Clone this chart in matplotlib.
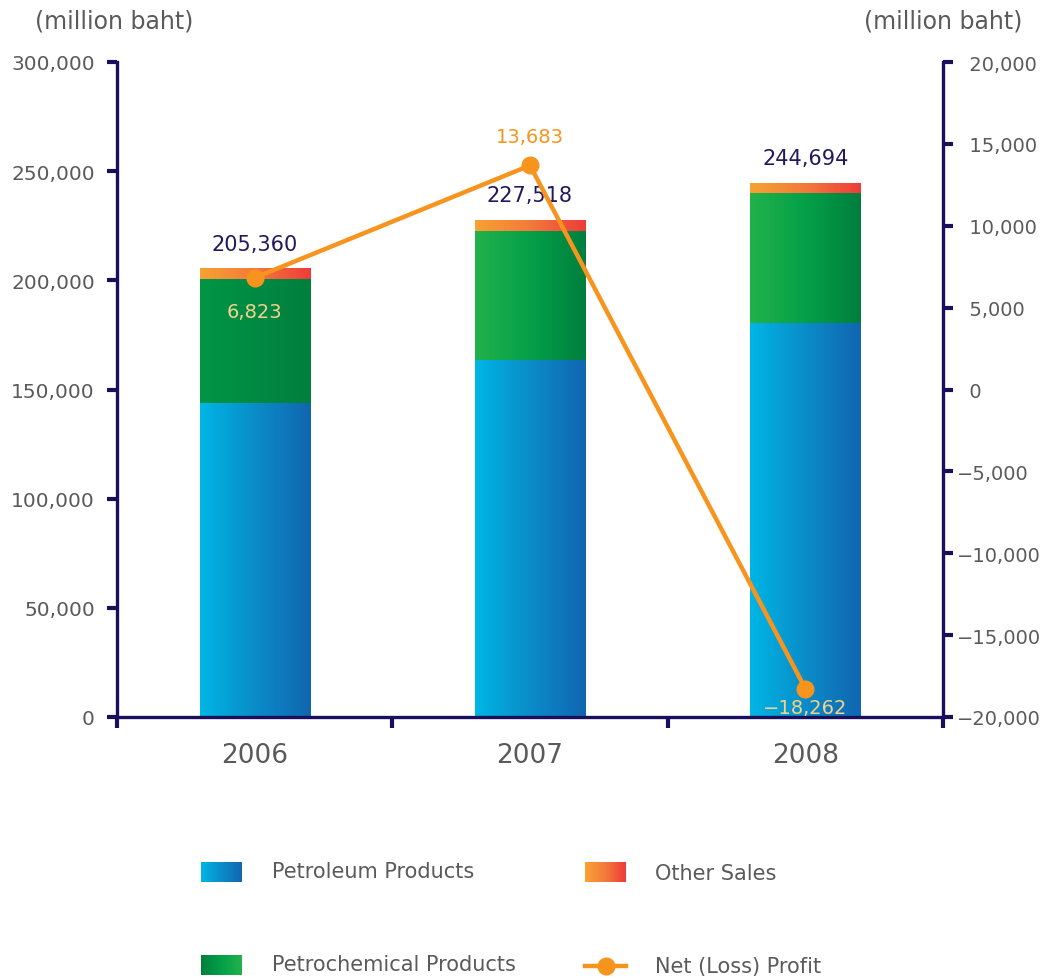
import numpy as np
import matplotlib
matplotlib.use("Agg")
import matplotlib.pyplot as plt
from matplotlib.colors import LinearSegmentedColormap
from matplotlib.ticker import FuncFormatter, FixedLocator

# ---- data ----
years = ["2006", "2007", "2008"]
petroleum = [144000, 163500, 180500]
petrochemical = [56500, 59300, 59700]
other_sales = [4860, 4718, 4494]
totals = [205360, 227518, 244694]
net_profit = [6823, 13683, -18262]
left_ticks = [0, 50000, 100000, 150000, 200000, 250000, 300000]
right_ticks = [-20000, -15000, -10000, -5000, 0, 5000, 10000, 15000, 20000]

NAVY = "#1a0f5c"
GRAY = "#5a5a5a"
ORANGE = "#f7941d"
plt.rcParams['font.family'] = ['DejaVu Sans']

cm_blue = LinearSegmentedColormap.from_list("b", ["#00b6e5", "#0a8cc8", "#1166b0"])
cm_green = LinearSegmentedColormap.from_list("g", ["#22b24c", "#04a048", "#007f3e"])
cm_green_dark = LinearSegmentedColormap.from_list("gd", ["#009645", "#008a42", "#007f3e"])
cm_orange = LinearSegmentedColormap.from_list("o", ["#f7a233", "#f37a3a", "#ee3b3b"])
grad = np.linspace(0, 1, 256).reshape(1, -1)

fig = plt.figure(figsize=(10.47, 9.79), dpi=100)
ax = fig.add_axes([117/1047, 1-718/979, (943-117)/1047, (718-63)/979])
x = np.arange(len(years))
w = 0.4

def gradient_bars(bottoms, heights, cmaps):
    bars = ax.bar(x, heights, w, bottom=bottoms, color="none", edgecolor="none")
    for b, cmap in zip(bars, cmaps):
        x0, y0 = b.get_x(), b.get_y()
        ax.imshow(grad, cmap=cmap, aspect="auto", extent=[x0, x0 + b.get_width(), y0, y0 + b.get_height()],
                  zorder=2, interpolation="bilinear")

b0 = np.zeros(3)
gradient_bars(b0, petroleum, [cm_blue] * 3)
b1 = b0 + np.array(petroleum)
gradient_bars(b1, petrochemical, [cm_green_dark, cm_green, cm_green])
b2 = b1 + np.array(petrochemical)
gradient_bars(b2, other_sales, [cm_orange] * 3)
b3 = b2 + np.array(other_sales)

ax.set_xlim(-0.5, 2.5)
ax.set_ylim(0, 300000)

for i, t in enumerate(totals):
    ax.text(x[i], b3[i] + 11500, f"{t:,}", ha="center", va="center", fontsize=15, color="#1f1a5e", zorder=5)

fmt = FuncFormatter(lambda v, p: f"{v:,.0f}".replace("-", "\u2212"))
fmt_r = FuncFormatter(lambda v, p: f"{v:,.0f}".replace("-", "\u2212") if v < 0 else "\u2007" + f"{v:,.0f}")
ax.yaxis.set_major_locator(FixedLocator(left_ticks))
ax.yaxis.set_major_formatter(fmt)
ax.xaxis.set_major_locator(FixedLocator([-0.5, 0.5, 1.5, 2.5]))
ax.xaxis.set_major_formatter(FuncFormatter(lambda v, p: ""))
ax.xaxis.set_minor_locator(FixedLocator(list(x)))
ax.set_xticklabels(years, minor=True)
ax.tick_params(axis="x", which="minor", length=0, pad=18, labelsize=19, labelcolor=GRAY)
ax.tick_params(axis="x", which="major", length=8, width=3, color=NAVY, direction="out")
ax.tick_params(axis="y", length=7, width=3, color=NAVY, labelsize=14.5, labelcolor=GRAY, pad=9)
for s in ["top", "right"]:
    ax.spines[s].set_visible(False)
for s in ["left", "bottom"]:
    ax.spines[s].set_color(NAVY)
    ax.spines[s].set_linewidth(2.4)
ax.set_zorder(1)

ax2 = ax.twinx()
ax2.plot(x, net_profit, color=ORANGE, lw=3.2, marker="o", ms=12, zorder=4, clip_on=False)
ax2.set_ylim(-20000, 20000)
ax2.yaxis.set_major_locator(FixedLocator(right_ticks))
ax2.yaxis.set_major_formatter(fmt_r)
ax2.tick_params(axis="y", length=7, width=3, color=NAVY, labelsize=14, labelcolor=GRAY, pad=3)
for s in ["top", "left", "bottom"]:
    ax2.spines[s].set_visible(False)
ax2.spines["right"].set_color(NAVY)
ax2.spines["right"].set_linewidth(2.4)

lab_off = [(-2080, "#f2d28c"), (1770, ORANGE), (-1150, "#f2d28c")]
for i, v in enumerate(net_profit):
    dy, c = lab_off[i]
    ax2.text(x[i], v + dy, f"{v:,}".replace("-", "\u2212"), ha="center", va="center", fontsize=14, color=c, zorder=6)

fig.text(114/1047, 1-22/979, "(million baht)", fontsize=17, color=GRAY, va="center", ha="center")
fig.text(943/1047, 1-22/979, "(million baht)", fontsize=17, color=GRAY, va="center", ha="center")

# legend
def swatch(px, py, cmap):
    a = fig.add_axes([px/1047, 1-(py+10)/979, 41/1047, 20/979])
    a.imshow(grad, cmap=cmap, aspect="auto", interpolation="bilinear")
    a.axis("off")

swatch(201, 873, cm_blue)
swatch(201, 966, cm_green.reversed())
swatch(585, 873, cm_orange)
fig.text(272/1047, 1-872/979, "Petroleum Products", fontsize=15, color=GRAY, va="center")
fig.text(272/1047, 1-965/979, "Petrochemical Products", fontsize=15, color=GRAY, va="center")
fig.text(655/1047, 1-874/979, "Other Sales", fontsize=15, color=GRAY, va="center")
fig.text(655/1047, 1-967/979, "Net (Loss) Profit", fontsize=15, color=GRAY, va="center")
fig.add_artist(plt.Line2D([585/1047, 626/1047], [1-967/979, 1-967/979], transform=fig.transFigure,
                          color=ORANGE, lw=3.2))
fig.add_artist(plt.Line2D([605.5/1047], [1-967/979], transform=fig.transFigure,
                          color=ORANGE, marker="o", ms=12, lw=0))

fig.savefig("out.png", dpi=100)
